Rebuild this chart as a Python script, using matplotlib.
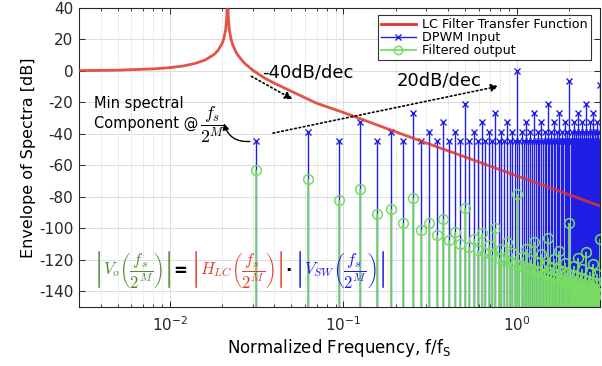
import numpy as np
import matplotlib
matplotlib.use("Agg")
import matplotlib.pyplot as plt
from matplotlib.lines import Line2D
from matplotlib.legend_handler import HandlerLine2D
from matplotlib.ticker import LogLocator, NullFormatter

plt.rcParams['font.family'] = ['DejaVu Sans']
plt.rcParams['mathtext.fontset'] = 'custom'
plt.rcParams['mathtext.rm'] = 'DejaVu Sans'
plt.rcParams['mathtext.it'] = 'DejaVu Sans:italic'
plt.rcParams['axes.unicode_minus'] = False

# ---------------- data ----------------
M = 5
harmonic_order = list(range(1, 97))          # harmonics of fs/2^M

dpwm_db = [
    -44.5, -38.5, -44.5, -32.5, -44.5, -38.5, -44.5, -26.5,
    -44.5, -38.5, -44.5, -32.5, -44.5, -38.5, -44.5, -20.7,
    -44.5, -38.5, -44.5, -32.5, -44.5, -38.5, -44.5, -26.5,
    -44.5, -38.5, -44.5, -32.5, -44.5, -38.5, -44.5, 0.0,
    -44.5, -38.5, -44.5, -32.5, -44.5, -38.5, -44.5, -26.5,
    -44.5, -38.5, -44.5, -32.5, -44.5, -38.5, -44.5, -20.7,
    -44.5, -38.5, -44.5, -32.5, -44.5, -38.5, -44.5, -26.5,
    -44.5, -38.5, -44.5, -32.5, -44.5, -38.5, -44.5, -6.4,
    -44.5, -38.5, -44.5, -32.5, -44.5, -38.5, -44.5, -26.5,
    -44.5, -38.5, -44.5, -32.5, -44.5, -38.5, -44.5, -20.7,
    -44.5, -38.5, -44.5, -32.5, -44.5, -38.5, -44.5, -26.5,
    -44.5, -38.5, -44.5, -32.5, -44.5, -38.5, -44.5, -9.0,
]

filtered_db = [
    -62.7, -68.7, -81.8, -74.8, -90.7, -87.8, -96.5, -80.8,
    -100.9, -96.7, -104.4, -93.9, -107.3, -102.5, -109.7, -87.1,
    -111.9, -106.9, -113.9, -102.7, -115.6, -110.4, -117.2, -99.9,
    -118.6, -113.3, -120.0, -108.6, -121.2, -115.8, -122.4, -78.4,
    -123.4, -118.0, -124.5, -113.0, -125.4, -119.9, -126.3, -108.8,
    -127.2, -121.6, -128.0, -116.4, -128.8, -123.2, -129.6, -106.2,
    -130.3, -124.7, -131.0, -119.3, -131.7, -126.0, -132.3, -114.6,
    -132.9, -127.2, -133.5, -121.8, -134.1, -128.4, -134.7, -96.9,
    -135.2, -129.5, -135.7, -124.0, -136.3, -130.5, -136.8, -119.0,
    -137.2, -131.5, -137.7, -125.9, -138.2, -132.4, -138.6, -115.0,
    -139.0, -133.3, -139.5, -127.7, -139.9, -134.1, -140.3, -122.5,
    -140.7, -134.9, -141.1, -129.3, -141.4, -135.6, -141.8, -106.5,
]

lc_freq = [0.003, 0.005, 0.008, 0.010, 0.012, 0.014, 0.016, 0.018, 0.019,
           0.020, 0.0205, 0.021, 0.0213, 0.0215, 0.0217, 0.022, 0.0225,
           0.023, 0.024, 0.025, 0.027, 0.030, 0.035, 0.040, 0.050, 0.070,
           0.10, 0.15, 0.2, 0.3, 0.5, 0.7, 1.0, 1.5, 2.0, 3.0]
lc_db = [0.2, 0.5, 1.3, 2.1, 3.2, 4.8, 7.0, 10.5, 13.2,
         17.4, 20.8, 26.7, 34.7, 48.0, 34.6, 26.5, 20.4,
         16.8, 12.2, 9.1, 4.8, 0.5, -4.4, -7.8, -12.9, -20.5,
         -26.4, -33.6, -38.7, -45.8, -54.6, -60.5, -66.7, -73.7, -78.7, -85.8]

legend_labels = ['LC Filter Transfer Function', 'DPWM Input', 'Filtered output']
x_ticks = [1e-2, 1e-1, 1e0]
y_ticks = list(range(-140, 41, 20))

# ---------------- style ----------------
RED = '#de3527'
BLUE = '#1e1ee6'
GREEN = '#78dc64'
EQ_GREEN = '#4c8a2f'
EQ_RED = '#e0402e'
EQ_BLUE = '#1c1ce6'

fig = plt.figure(figsize=(6.02, 3.66), dpi=100)
ax = fig.add_axes([79/602, 1-307/366, (600-79)/602, (307-8)/366])

freqs = np.array(harmonic_order) / 2**M

ax.vlines(freqs, -200, dpwm_db, colors=BLUE, lw=1.0, zorder=2)
ax.plot(freqs, dpwm_db, ls='none', marker='x', ms=5, mew=1.0, color=BLUE, zorder=2.2)
ax.vlines(freqs, -200, filtered_db, colors=GREEN, lw=1.3, zorder=2.5)
ax.plot(freqs, filtered_db, ls='none', marker='o', ms=7, mfc='none', mew=1.1,
        color=GREEN, zorder=2.6)
ax.plot(lc_freq, lc_db, color=RED, lw=2.0, zorder=3, alpha=0.85)

ax.set_xscale('log')
ax.set_xlim(0.003, 3)
ax.set_ylim(-150, 40)
ax.set_xticks(x_ticks)
ax.set_yticks(y_ticks)
ax.xaxis.set_minor_locator(LogLocator(base=10, subs=np.arange(2, 10), numticks=20))
ax.xaxis.set_minor_formatter(NullFormatter())

ax.grid(which='major', color='#dcdcdc', lw=0.7, zorder=0)
ax.grid(which='minor', axis='x', color='#cfcfcf', ls=':', lw=0.7, zorder=0)
ax.set_axisbelow(True)
ax.tick_params(which='both', direction='in', top=True, right=True,
               labelsize=11, colors='#262626')
ax.tick_params(which='major', length=4, width=0.7)
ax.tick_params(which='minor', length=2, width=0.6)
ax.tick_params(axis='y', pad=4)
ax.tick_params(axis='x', pad=6)
for s in ax.spines.values():
    s.set_color('#262626')
    s.set_linewidth(0.8)

ax.set_xlabel('Normalized Frequency, f/f$_{\\mathrm{S}}$', fontsize=12, labelpad=2)
ax.set_ylabel('Envelope of Spectra [dB]', fontsize=11.5, labelpad=2)


class RightMarkerHandler(HandlerLine2D):
    def get_xdata(self, legend, xdescent, ydescent, width, height, fontsize):
        xdata, _ = super().get_xdata(legend, xdescent, ydescent, width, height, fontsize)
        return xdata, np.array([xdata[-1]])


handles = [
    Line2D([], [], color=RED, lw=2.0),
    Line2D([], [], color=BLUE, lw=1.0, marker='x', ms=5, mew=1.0),
    Line2D([], [], color=GREEN, lw=1.3, marker='o', ms=6, mfc='none', mew=1.1),
]
leg = ax.legend(handles, legend_labels, loc='upper right',
                bbox_to_anchor=(591/602, 1-15/366), bbox_transform=fig.transFigure,
                borderaxespad=0, fontsize=9.2, fancybox=False, framealpha=1,
                edgecolor='#333333', handlelength=2.7, handletextpad=0.5,
                borderpad=0.25, labelspacing=0.0,
                handler_map={handles[1]: RightMarkerHandler(),
                             handles[2]: RightMarkerHandler()})
leg.get_frame().set_linewidth(0.8)
leg.set_zorder(10)

# ---------------- annotations ----------------
ax.text(0.034, -1, '-40dB/dec', fontsize=13, va='center', ha='left', zorder=6)
ax.annotate('', xy=(0.0509, -18), xytext=(0.0295, -3.4),
            arrowprops=dict(arrowstyle='-|>', ls=':', lw=1.2, color='k',
                            mutation_scale=11, shrinkA=0, shrinkB=0), zorder=6)
ax.text(0.201, -5.9, '20dB/dec', fontsize=13, va='center', ha='left', zorder=6)
ax.annotate('', xy=(0.783, -9.7), xytext=(0.0393, -39.5),
            arrowprops=dict(arrowstyle='-|>', ls=':', lw=1.2, color='k',
                            mutation_scale=11, shrinkA=0, shrinkB=0), zorder=6)

ax.text(0.00368, -20.6, 'Min spectral', fontsize=10.5, va='center', ha='left', zorder=6)
c1 = ax.text(0.00368, -33.3, 'Component @', fontsize=10.5,
             va='center', ha='left', zorder=6)
ax.annotate(r'$\dfrac{f_s}{2^M}$', xy=(1, 0.5), xycoords=c1, xytext=(1, -1),
            textcoords='offset points', va='center', ha='left', fontsize=13,
            math_fontfamily='cm', zorder=6)
ax.annotate('', xy=(0.0205, -33.3), xytext=(0.0289, -44.8),
            arrowprops=dict(arrowstyle='-|>', lw=1.0, color='k', mutation_scale=9,
                            connectionstyle='arc3,rad=-0.4', shrinkA=0, shrinkB=0),
            zorder=6)

eq_fs = 12
t1 = ax.text(0.00363, -127, r'$\left|V_o\left(\dfrac{f_s}{2^M}\right)\right|$',
             color=EQ_GREEN, fontsize=eq_fs, va='center', ha='left',
             math_fontfamily='cm', zorder=6)
t2 = ax.annotate('=', xy=(1, 0.5), xycoords=t1, xytext=(1, 0), textcoords='offset points',
                 va='center', ha='left', fontsize=12, fontweight='bold', zorder=6)
t3 = ax.annotate(r'$\left|H_{LC}\left(\dfrac{f_s}{2^M}\right)\right|$', xy=(1, 0.5),
                 xycoords=t2, xytext=(2, 0), textcoords='offset points',
                 va='center', ha='left', fontsize=eq_fs, color=EQ_RED,
                 math_fontfamily='cm', zorder=6)
t4 = ax.annotate('·', xy=(1, 0.5), xycoords=t3, xytext=(1, 0), textcoords='offset points',
                 va='center', ha='left', fontsize=12, fontweight='bold', zorder=6)
t5 = ax.annotate(r'$\left|V_{SW}\left(\dfrac{f_s}{2^M}\right)\right|$', xy=(1, 0.5),
                 xycoords=t4, xytext=(2, 0), textcoords='offset points',
                 va='center', ha='left', fontsize=eq_fs, color=EQ_BLUE,
                 math_fontfamily='cm', zorder=6)

fig.savefig('out.png', dpi=100)
